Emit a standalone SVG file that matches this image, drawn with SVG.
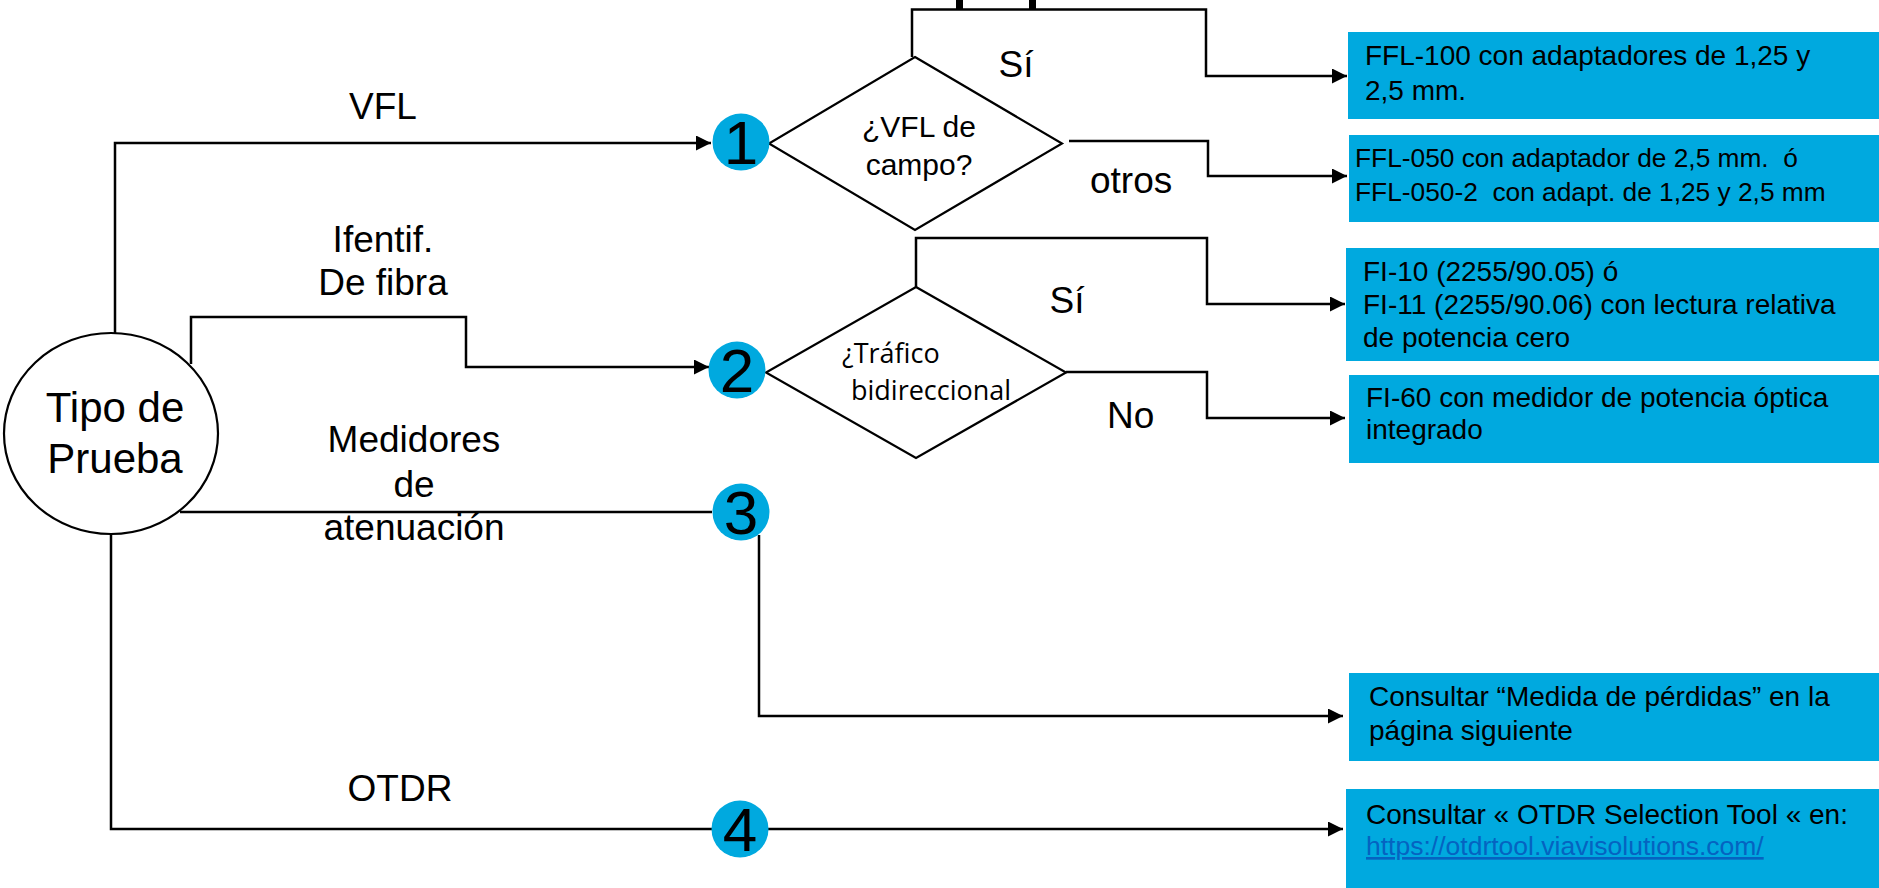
<svg xmlns="http://www.w3.org/2000/svg" width="1879" height="888" viewBox="0 0 1879 888">
<style>
.ln{fill:none;stroke:#000;stroke-width:2.5}
.shape{fill:#fff;stroke:#000;stroke-width:2.2}
.num{fill:#00A9DF}
.box{fill:#00A9DF}
.t{font-family:"Liberation Sans",Arial,sans-serif;fill:#000;white-space:pre}
.lbl{font-size:37px}
.bt{font-size:28px}
.cal{font-family:"Open Sans","Noto Sans",sans-serif;font-size:27px;fill:#000}
.dg{font-family:"Liberation Sans",Arial,sans-serif;font-size:62px;fill:#000;text-anchor:middle}
.link{fill:#0563C1;text-decoration:underline}
</style>
<defs>
<marker id="arr" markerUnits="userSpaceOnUse" markerWidth="16" markerHeight="16" refX="15" refY="7.5" orient="auto">
<path d="M0,0 L15,7.5 L0,15 Z" fill="#000"/>
</marker>
</defs>
<rect width="1879" height="888" fill="#fff"/>
<rect x="956" y="0" width="7" height="10" fill="#000"/>
<rect x="1029" y="0" width="7" height="10" fill="#000"/>
<g id="connectors">
<path class="ln" d="M912,57 V9.5 H1206 V76 H1347" marker-end="url(#arr)"/>
<path class="ln" d="M1069,141 H1208 V176 H1347" marker-end="url(#arr)"/>
<path class="ln" d="M916,287 V238 H1207 V304 H1345" marker-end="url(#arr)"/>
<path class="ln" d="M1066,372 H1207 V418 H1345" marker-end="url(#arr)"/>
<path class="ln" d="M115,334 V143 H711" marker-end="url(#arr)"/>
<path class="ln" d="M191,364 V317 H466 V367 H709" marker-end="url(#arr)"/>
<path class="ln" d="M180,512 H712"/>
<path class="ln" d="M759,535 V716 H1343" marker-end="url(#arr)"/>
<path class="ln" d="M111,534 V829 H1343" marker-end="url(#arr)"/>
<text class="t lbl" x="1016" y="77" text-anchor="middle">Sí</text>
<text class="t lbl" x="1090" y="193">otros</text>
<text class="t lbl" x="1067" y="313" text-anchor="middle">Sí</text>
<text class="t lbl" x="1107" y="428">No</text>
<text class="t lbl" x="383" y="119" text-anchor="middle">VFL</text>
<text class="t lbl" x="383" y="252" text-anchor="middle">Ifentif.</text>
<text class="t lbl" x="383" y="295" text-anchor="middle">De fibra</text>
<text class="t lbl" x="414" y="452" text-anchor="middle">Medidores</text>
<text class="t lbl" x="414" y="497" text-anchor="middle">de</text>
<text class="t lbl" x="414" y="540" text-anchor="middle">atenuación</text>
<text class="t lbl" x="400" y="801" text-anchor="middle">OTDR</text>
</g>
<g id="start">
<ellipse class="shape" cx="111" cy="433.5" rx="107" ry="100.5"/>
<text class="t" font-size="42" x="115" y="422" text-anchor="middle">Tipo de</text>
<text class="t" font-size="42" x="115" y="473" text-anchor="middle">Prueba</text>
</g>
<g id="dec1">
<polygon class="shape" points="915,57 1062,143.5 915,230 769,143.5"/>
<text class="t" font-size="30" x="919" y="137" text-anchor="middle">¿VFL de</text>
<text class="t" font-size="30" x="919" y="175" text-anchor="middle">campo?</text>
</g>
<g id="dec2">
<polygon class="shape" points="916,287 1066,372.5 916,458 766,372.5"/>
<text class="cal" x="842" y="363">¿Tráfico</text>
<text class="cal" x="851" y="400">bidireccional</text>
</g>
<g id="n1"><circle class="num" cx="741" cy="142" r="28.5"/><text class="dg" x="741" y="164">1</text></g>
<g id="n2"><circle class="num" cx="737" cy="370" r="28.5"/><text class="dg" x="737" y="392">2</text></g>
<g id="n3"><circle class="num" cx="741" cy="512" r="28.5"/><text class="dg" x="741" y="534">3</text></g>
<g id="n4"><circle class="num" cx="740" cy="829" r="28.5"/><text class="dg" x="740" y="851">4</text></g>
<g id="box1">
<rect class="box" x="1348" y="32" width="531" height="87"/>
<text class="t bt" x="1365" y="65">FFL-100 con adaptadores de 1,25 y</text>
<text class="t bt" x="1365" y="100">2,5 mm.</text>
</g>
<g id="box2">
<rect class="box" x="1349" y="135" width="530" height="87"/>
<text class="t" font-size="26.3" x="1355" y="167">FFL-050 con adaptador de 2,5 mm.  ó</text>
<text class="t" font-size="26.3" x="1355" y="201">FFL-050-2  con adapt. de 1,25 y 2,5 mm</text>
</g>
<g id="box3">
<rect class="box" x="1346" y="248" width="533" height="113"/>
<text class="t bt" x="1363" y="281">FI-10 (2255/90.05) ó</text>
<text class="t bt" x="1363" y="314">FI-11 (2255/90.06) con lectura relativa</text>
<text class="t bt" x="1363" y="347">de potencia cero</text>
</g>
<g id="box4">
<rect class="box" x="1349" y="375" width="530" height="88"/>
<text class="t bt" x="1366" y="407">FI-60 con medidor de potencia óptica</text>
<text class="t bt" x="1366" y="439">integrado</text>
</g>
<g id="box5">
<rect class="box" x="1349" y="673" width="530" height="88"/>
<text class="t bt" x="1369" y="706">Consultar “Medida de pérdidas” en la</text>
<text class="t bt" x="1369" y="740">página siguiente</text>
</g>
<g id="box6">
<rect class="box" x="1346" y="789" width="533" height="99"/>
<text class="t bt" x="1366" y="824">Consultar « OTDR Selection Tool « en:</text>
<text class="t link" font-size="26.5" x="1366" y="855">https://otdrtool.viavisolutions.com/</text>
</g>
</svg>
